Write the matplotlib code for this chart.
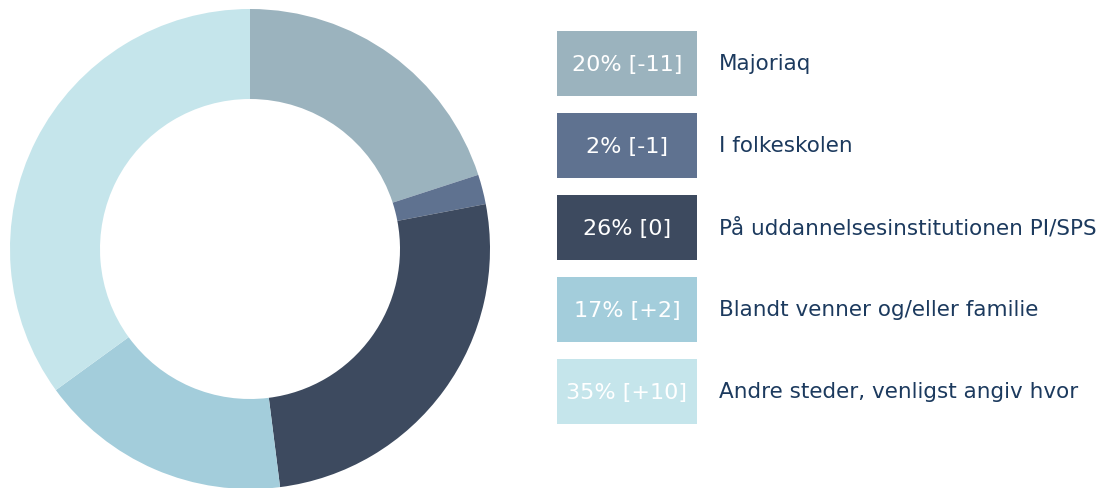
import matplotlib
matplotlib.use("Agg")
import matplotlib.pyplot as plt
from matplotlib.patches import Rectangle

categories = ["Majoriaq", "I folkeskolen", "På uddannelsesinstitutionen PI/SPS",
              "Blandt venner og/eller familie", "Andre steder, venligst angiv hvor"]
values = [20, 2, 26, 17, 35]
changes = ["-11", "-1", "0", "+2", "+10"]
colors = ["#9BB3BE", "#5F7290", "#3D4A5F", "#A3CDDB", "#C5E5EB"]

W, H = 1102, 489
fig = plt.figure(figsize=(W / 100, H / 100), dpi=100)
fig.patch.set_facecolor("white")

# Donut
cx, cy, r = 250, 250, 240
ax = fig.add_axes([(cx - r) / W, (H - cy - r) / H, 2 * r / W, 2 * r / H])
ax.pie(values, colors=colors, startangle=90, counterclock=False,
       radius=1.0, wedgeprops=dict(width=0.375, linewidth=0))
ax.set_xlim(-1, 1)
ax.set_ylim(-1, 1)
ax.set_aspect("equal")
ax.axis("off")

# Legend boxes
lax = fig.add_axes([0, 0, 1, 1])
lax.set_xlim(0, W)
lax.set_ylim(H, 0)
lax.axis("off")
box_x, box_w, box_h = 557, 140, 65
y0, pitch = 32, 82
font = "DejaVu Sans"
for i, (cat, v, ch, col) in enumerate(zip(categories, values, changes, colors)):
    y = y0 + i * pitch
    lax.add_patch(Rectangle((box_x, y), box_w, box_h, facecolor=col, edgecolor="none"))
    lax.text(box_x + box_w / 2, y + box_h / 2, f"{v}% [{ch}]", color="white",
             fontsize=16, ha="center", va="center", family=font)
    lax.text(719, y + box_h / 2, cat, color="#1C3A5E", fontsize=15.5,
             ha="left", va="center", family=font)

fig.savefig("out.png", dpi=100, facecolor="white")
